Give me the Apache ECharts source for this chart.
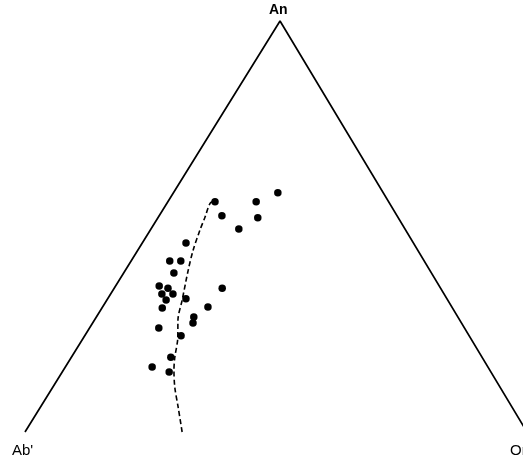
<!DOCTYPE html>
<html>
<head>
<meta charset="utf-8">
<script src="https://cdn.jsdelivr.net/npm/echarts@6/dist/echarts.min.js"></script>
<style>
html,body{margin:0;padding:0;background:#fff;}
#chart{width:523px;height:467px;}
</style>
</head>
<body>
<div id="chart"></div>
<script>
// Ternary end members
const vertexNames = ['An', "Ab'", 'Or'];
// Vertex compositions (An %, Or %), Ab' = 100 - An - Or ; drawn edges Ab' -> An -> Or
const vertexAn = [100, 0, 0];
const vertexOr = [0, 0, 100];

// Sample compositions (mol %)
const sampleAn = [58.2, 56.0, 56.0, 52.6, 52.1, 49.4, 46.0, 41.6, 41.6, 38.7, 35.5, 35.0, 35.0,
                  33.6, 33.6, 32.1, 32.4, 30.2, 30.4, 28.0, 26.5, 25.3, 23.4, 18.2, 15.8, 14.6];
const sampleOr = [20.8, 9.4, 17.6, 12.5, 19.9, 17.5, 8.7, 7.7, 9.9, 10.0, 8.7, 10.7, 21.5,
                  10.2, 12.4, 11.8, 15.6, 12.0, 21.0, 19.4, 20.0, 13.8, 19.2, 19.8, 17.3, 21.3];

// Dashed trend curve (An %, Or %)
const trendAn = [0, 6.1, 10.9, 15.1, 18.2, 22.9, 27.3, 32.1, 39.4, 44.3, 49.1, 52.3, 55.7, 56.2];
const trendOr = [31.3, 27.4, 24.3, 22.0, 20.6, 18.8, 16.6, 15.0, 12.5, 11.0, 9.9, 9.3, 8.6, 9.3];

// the printed diagram is slightly skewed: the An apex sits at 50.8 % of the base
const apexShift = 0.508;
// ternary -> cartesian (x: along base from Ab' to Or, y: An)
function toXY(an, or) { return [or + an * apexShift, an]; }

const sides = [1, 0, 2].map(i => toXY(vertexAn[i], vertexOr[i]));
const samples = sampleAn.map((a, i) => toXY(a, sampleOr[i]));
const trend = trendAn.map((a, i) => toXY(a, trendOr[i]));

// the Or corner lies just beyond the right edge of the picture
const xMax = 99.2;

const chart = echarts.init(document.getElementById('chart'), null, {renderer: 'canvas'});
chart.setOption({
  animation: false,
  backgroundColor: '#ffffff',
  grid: {left: 25, top: 21, right: 0, height: 411, containLabel: false},
  xAxis: {type: 'value', min: 0, max: xMax, show: false},
  yAxis: {type: 'value', min: 0, max: 100, show: false},
  graphic: [
    {type: 'text', left: 269, top: 3, style: {text: vertexNames[0], font: 'bold 14px "Liberation Sans", Arial, sans-serif', fill: '#000'}},
    {type: 'text', left: 12, top: 443, style: {text: vertexNames[1], font: '15px "Liberation Sans", Arial, sans-serif', fill: '#000'}},
    {type: 'text', left: 510, top: 443, style: {text: vertexNames[2], font: '15px "Liberation Sans", Arial, sans-serif', fill: '#000'}}
  ],
  series: [
    {
      type: 'line', data: sides, symbol: 'none', clip: false,
      lineStyle: {color: '#000', width: 1.7}, z: 1
    },
    {
      type: 'line', data: trend, symbol: 'none', smooth: 0.3, clip: false,
      lineStyle: {color: '#000', width: 1.6, type: [5, 3]}, z: 2
    },
    {
      type: 'scatter', data: samples, symbol: 'circle', symbolSize: 7.5,
      itemStyle: {color: '#000', opacity: 1}, z: 3
    }
  ]
});
</script>
</body>
</html>
